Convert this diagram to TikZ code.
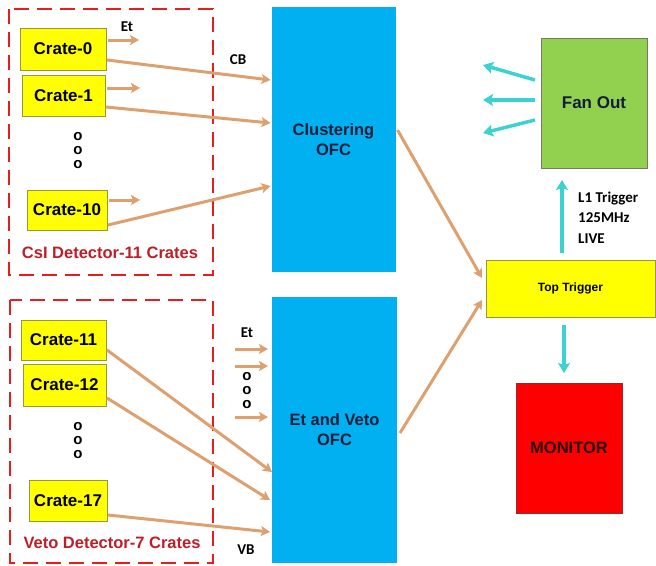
\documentclass[tikz,border=0pt]{standalone}
\usepackage{fontspec}
\setmainfont{Liberation Sans}
\newfontfamily\calfont{Carlito}
\usetikzlibrary{arrows.meta}
\definecolor{oarrc}{RGB}{222,160,110}
\definecolor{ofcblue}{RGB}{0,176,240}
\definecolor{crateyel}{RGB}{255,255,0}
\definecolor{yelborder}{RGB}{150,150,60}
\definecolor{fangreen}{RGB}{146,208,80}
\definecolor{fanborder}{RGB}{120,120,100}
\definecolor{monred}{RGB}{255,0,0}
\definecolor{monborder}{RGB}{150,40,40}
\definecolor{cyanarr}{RGB}{60,210,210}
\definecolor{dashred}{RGB}{230,30,30}
\definecolor{labred}{RGB}{190,30,40}
\definecolor{navytext}{RGB}{20,30,60}
\tikzset{
  crate/.style={draw=yelborder, line width=1pt, fill=crateyel, inner sep=0pt, outer sep=0pt, font=\fontsize{17}{19}\selectfont\bfseries},
  ofc/.style={fill=ofcblue, inner sep=0pt, outer sep=0pt, minimum width=124pt, minimum height=265pt, align=center, text=navytext, font=\fontsize{16.5}{20}\selectfont\bfseries},
  grpbox/.style={draw=dashred, line width=2.2pt, dash pattern=on 15pt off 8pt},
  oarr/.style={draw=oarrc, line width=3pt, -{Stealth[length=9pt,width=10pt,inset=2pt]}},
  carr/.style={draw=cyanarr, line width=3.5pt, -{Stealth[length=10pt,width=12pt,inset=2pt]}},
  smalllab/.style={font=\calfont\fontsize{15}{20.5}\selectfont\bfseries, inner sep=0pt},
  grplab/.style={text=labred, font=\fontsize{16.5}{19}\selectfont\bfseries, inner sep=0pt},
  dotsstack/.style={align=center, inner sep=0pt, font=\fontsize{15}{14}\selectfont\bfseries}
}
\begin{document}
\begin{tikzpicture}[x=1pt,y=-1pt]
\useasboundingbox (0,0) rectangle (656,565);
% dashed group boxes
\draw[grpbox] (9,9) rectangle (213,275);
\draw[grpbox] (10,300) rectangle (213,563);
% crates
\node[crate, minimum width=86pt, minimum height=42pt] (c0) at (63,49) {Crate-0};
\node[crate, minimum width=83pt, minimum height=41pt] (c1) at (63.5,95.5) {Crate-1};
\node[crate, minimum width=80pt, minimum height=40pt] (c10) at (67,210) {Crate-10};
\node[crate, minimum width=85pt, minimum height=40pt] (c11) at (63.5,340) {Crate-11};
\node[crate, minimum width=83pt, minimum height=42pt] (c12) at (64.5,385) {Crate-12};
\node[crate, minimum width=78pt, minimum height=41pt] (c17) at (68,500.5) {Crate-17};
% dots
\node[dotsstack] (d1) at (78,151) {o\\o\\o};
\node[dotsstack] (d2) at (78,441) {o\\o\\o};
\node[dotsstack] (d3) at (247,391) {o\\o\\o};
% group labels
\node[grplab] (l1) at (110,253) {CsI Detector-11 Crates};
\node[grplab] (l2) at (112,543) {Veto Detector-7 Crates};
% OFCs
\node[ofc] (ofc1) at (333.5,139.5) {Clustering\\OFC};
\node[ofc, minimum width=125pt, minimum height=266pt] (ofc2) at (334.5,430) {Et and Veto\\OFC};
% right side boxes
\node[draw=yelborder, line width=1pt, fill=crateyel, inner sep=0pt, outer sep=0pt, minimum width=169pt, minimum height=57pt, font=\fontsize{12}{14}\selectfont\bfseries] (top) at (570.5,288.5) {Top Trigger};
\node[draw=fanborder, line width=1pt, fill=fangreen, inner sep=0pt, outer sep=0pt, minimum width=106pt, minimum height=130pt, text=navytext, font=\fontsize{17}{19}\selectfont\bfseries] (fan) at (594,103) {Fan Out};
\node[draw=monborder, line width=1pt, fill=monred, inner sep=0pt, outer sep=0pt, minimum width=106pt, minimum height=130pt, text=black!85!red, font=\fontsize{16.5}{19}\selectfont\bfseries] (mon) at (569,448) {MONITOR};
% small labels
\node[smalllab] (et1) at (127,27) {Et};
\node[smalllab] (cb) at (238,60) {CB};
\node[smalllab] (et2) at (247,333) {Et};
\node[smalllab] (vb) at (246,550) {VB};
\node[smalllab, anchor=west, align=left] (l1t) at (578,217.5) {L1 Trigger\\125MHz\\LIVE};
% Et short arrows (top)
\draw[oarr] ([xshift=2pt,yshift=9pt]c0.east) -- ++(31,0);
\draw[oarr] ([xshift=2pt,yshift=7.5pt]c1.east) -- ++(33,0);
\draw[oarr] ([xshift=2pt,yshift=10pt]c10.east) -- ++(31,0);
% long arrows to clustering OFC
\draw[oarr] ([xshift=1pt,yshift=-11pt]c0.east) -- ([xshift=-1pt,yshift=59.5pt]ofc1.west);
\draw[oarr] ([xshift=1pt,yshift=-11.5pt]c1.east) -- ([xshift=-1pt,yshift=16.5pt]ofc1.west);
\draw[oarr] ([xshift=1pt,yshift=-15pt]c10.east) -- ([xshift=-1pt,yshift=-46.5pt]ofc1.west);
% Et arrows into Et and Veto OFC
\coordinate (e1) at (235,349);
\coordinate (e2) at (235,366);
\coordinate (e3) at (235,417);
\draw[oarr, shorten >=4pt] (e1) -- (e1 -| ofc2.west);
\draw[oarr, shorten >=4pt] (e2) -- (e2 -| ofc2.west);
\draw[oarr, shorten >=4pt] (e3) -- (e3 -| ofc2.west);
% long arrows to Et and Veto OFC
\draw[oarr] ([xshift=1pt,yshift=-10pt]c11.east) -- ([xshift=0pt,yshift=-42pt]ofc2.west);
\draw[oarr] ([xshift=1pt,yshift=-13pt]c12.east) -- ([xshift=-2pt,yshift=-70pt]ofc2.west);
\draw[oarr] ([xshift=1pt,yshift=-14.5pt]c17.east) -- ([xshift=-2pt,yshift=-102pt]ofc2.west);
% OFC to Top Trigger
\draw[oarr] ([xshift=2pt,yshift=9.5pt]ofc1.east) -- ([xshift=-4pt,yshift=10.5pt]top.west);
\draw[oarr] ([xshift=3pt,yshift=-3pt]ofc2.east) -- ([xshift=-4pt,yshift=-11.5pt]top.west);
% cyan arrows
\draw[carr] ([xshift=-8.5pt,yshift=7pt]top.north) -- ([xshift=-32pt,yshift=-12pt]fan.south);
\draw[carr] ([xshift=-6.5pt,yshift=-8pt]top.south) -- ([xshift=-5pt,yshift=10pt]mon.north);
\draw[carr] ([xshift=-6pt,yshift=23pt]fan.west) -- ++(-52,-15);
\draw[carr] ([xshift=-6pt,yshift=3pt]fan.west) -- ++(-52,0);
\draw[carr] ([xshift=-6pt,yshift=-17pt]fan.west) -- ++(-52,13);
\end{tikzpicture}
\end{document}
